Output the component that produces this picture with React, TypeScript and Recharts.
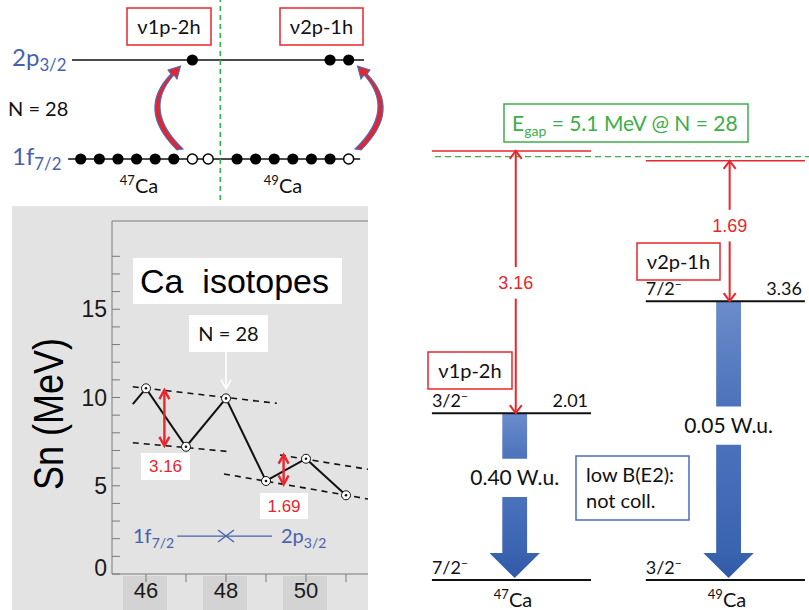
import React from "react";
import {
  ComposedChart,
  ScatterChart,
  Scatter,
  Line,
  XAxis,
  YAxis,
  ReferenceLine,
  ReferenceArea,
} from "recharts";

const SANS = "'Liberation Sans', Arial, sans-serif";
const CAL = "Lato, 'Open Sans', sans-serif";
const RED = "#e8262d";
const BLUE_TXT = "#4662ad";
const GREEN = "#3cae4a";
const AXIS = "#7a7a7a";

// shell-model occupation, slot index along each orbital line
const f72Filled = [0, 1, 2, 3, 4, 5, 8.4, 9.4, 10.4, 11.4, 12.4, 13.4];
const f72Holes = [6, 6.85, 14.4];
const p32Filled = [6, 13.4, 14.4];

// one-neutron separation energies of Ca isotopes (MeV)
const massNumbers = [45.67, 46, 47, 48, 49, 50, 51];
const snValues = [9.63, 10.52, 7.21, 9.95, 5.27, 6.53, 4.46];
const xTicks = [46, 47, 48, 49, 50, 51];
const yTicks = [0, 1, 2, 3, 4, 5, 6, 7, 8, 9, 10, 11, 12, 13, 14, 15, 16, 17, 18];

// dashed systematics [A, Sn]
const upperTrendA = [[45.67, 10.61], [49.27, 9.67]];
const lowerTrendA = [[45.67, 7.44], [48.1, 6.93]];
const upperTrendB = [[49.35, 6.74], [51.55, 5.93]];
const lowerTrendB = [[47.95, 5.67], [51.55, 4.25]];

// gap arrows: A, upper Sn, lower Sn
const gapArrowA = [46.46, 49.44];
const gapArrowHi = [10.42, 6.76];
const gapArrowLo = [7.26, 5.07];

// level scheme (MeV)
const nuclei = ["47", "49"];
const groundSpins = ["7/2", "3/2"];
const excitedSpins = ["3/2", "7/2"];
const excitedEnergies = [2.01, 3.36];
const gapToShell = [3.16, 1.69];
const shellGap = 5.1;
const bE2Labels = ["0.40 W.u.", "0.05 W.u."];
const bE2LabelEnergy = [1.23, 1.86];
const redLabelEnergy = [3.58, 4.27];

const toPoints = (pts: number[][]) => pts.map(([n, sn]) => ({ n, sn }));
const snPoints = massNumbers.map((n, i) => ({ n, sn: snValues[i] }));

const arrowLine =
  (color: string, width: number, headStart: boolean, headEnd: boolean, size = 8, spread = 5) =>
  (p: any) => {
    const { x1, y1, x2, y2 } = p;
    const head = (tx: number, ty: number, fx: number, fy: number) => {
      const dx = tx - fx;
      const dy = ty - fy;
      const len = Math.hypot(dx, dy) || 1;
      const ux = dx / len;
      const uy = dy / len;
      const bx = tx - ux * size;
      const by = ty - uy * size;
      return `M${bx - uy * spread},${by + ux * spread} L${tx},${ty} L${bx + uy * spread},${by - ux * spread}`;
    };
    return (
      <g>
        <line x1={x1} y1={y1} x2={x2} y2={y2} stroke={color} strokeWidth={width} />
        {headStart && <path d={head(x1, y1, x2, y2)} fill="none" stroke={color} strokeWidth={width} />}
        {headEnd && <path d={head(x2, y2, x1, y1)} fill="none" stroke={color} strokeWidth={width} />}
      </g>
    );
  };

const SnXTick = (props: any) => {
  const { x, y, payload } = props;
  const v = payload.value;
  const labelled = v % 2 === 0;
  return (
    <g>
      {labelled && <rect x={x - 23} y={y - 6} width={44} height={36} fill="#d3d3d3" />}
      <line x1={x} y1={y - 8} x2={x} y2={y} stroke={AXIS} />
      {labelled && (
        <text x={x} y={y + 16} textAnchor="middle" fontSize={22} fontFamily={SANS} fill="#1a1a1a">
          {v}
        </text>
      )}
    </g>
  );
};

const SnYTick = (props: any) => {
  const { x, y, payload } = props;
  const v = payload.value;
  return (
    <g>
      <line x1={x} y1={y} x2={x + 8} y2={y} stroke={AXIS} />
      {v % 5 === 0 && (
        <text x={x - 5} y={v === 0 ? y + 2 : y + 8} textAnchor="end" fontSize={23} fontFamily={SANS} fill="#1a1a1a">
          {v}
        </text>
      )}
    </g>
  );
};

const SnDot = (props: any) => {
  const { cx, cy, index } = props;
  if (index === 0) return <g key="lead" />;
  return (
    <g key={index}>
      <circle cx={cx} cy={cy} r={4.5} fill="#fff" stroke="#111" strokeWidth={1} />
      <circle cx={cx} cy={cy} r={1.3} fill="#111" />
    </g>
  );
};

function ShellDiagram() {
  const filled = [
    ...f72Filled.map((s) => ({ s, lvl: 0 })),
    ...p32Filled.map((s) => ({ s, lvl: 1 })),
  ];
  const holes = f72Holes.map((s) => ({ s, lvl: 0 }));
  return (
    <ScatterChart width={400} height={200} margin={{ top: 0, right: 0, bottom: 0, left: 0 }}>
      <XAxis type="number" dataKey="s" domain={[-4.34, 17.16]} hide allowDataOverflow />
      <YAxis type="number" dataKey="lvl" domain={[-0.414, 1.606]} hide allowDataOverflow />
      <ReferenceLine segment={[{ x: -0.47, y: 1 }, { x: 15.23, y: 1 }]} stroke="#111" strokeWidth={1.5} />
      <ReferenceLine segment={[{ x: -0.68, y: 0 }, { x: 15.02, y: 0 }]} stroke="#111" strokeWidth={1.5} />
      <ReferenceLine x={7.5} stroke="#2bb04a" strokeWidth={1.5} strokeDasharray="5 4" />
      <Scatter
        data={filled}
        isAnimationActive={false}
        shape={(p: any) => <circle cx={p.cx} cy={p.cy} r={5.6} fill="#000" />}
      />
      <Scatter
        data={holes}
        isAnimationActive={false}
        shape={(p: any) => <circle cx={p.cx} cy={p.cy} r={5} fill="#fff" stroke="#000" strokeWidth={1.5} />}
      />
    </ScatterChart>
  );
}

function SnChart() {
  return (
    <ComposedChart width={368} height={410} margin={{ top: 21, right: 0, bottom: 0, left: 0 }}>
      <XAxis
        type="number"
        dataKey="n"
        domain={[45.15, 51.55]}
        allowDataOverflow
        ticks={xTicks}
        interval={0}
        tickSize={8}
        tickMargin={0}
        tickLine={false}
        height={36}
        stroke={AXIS}
        tick={<SnXTick />}
      />
      <YAxis
        type="number"
        domain={[0, 20]}
        allowDataOverflow
        ticks={yTicks}
        interval={0}
        width={112}
        tickSize={0}
        tickMargin={0}
        tickLine={false}
        stroke={AXIS}
        tick={<SnYTick />}
      />
      <ReferenceLine y={20} stroke={AXIS} />
      {[upperTrendA, lowerTrendA, upperTrendB, lowerTrendB].map((t, i) => (
        <Line
          key={i}
          data={toPoints(t)}
          dataKey="sn"
          stroke="#111"
          strokeWidth={1.6}
          strokeDasharray="6 5"
          dot={false}
          isAnimationActive={false}
        />
      ))}
      <Line data={snPoints} dataKey="sn" stroke="#111" strokeWidth={2} dot={<SnDot />} isAnimationActive={false} />
      {gapArrowA.map((a, i) => (
        <ReferenceLine
          key={i}
          segment={[{ x: a, y: gapArrowHi[i] }, { x: a, y: gapArrowLo[i] }]}
          shape={arrowLine(RED, 2.4, true, true, 9, 5)}
        />
      ))}
      <ReferenceLine segment={[{ x: 48, y: 12.6 }, { x: 48, y: 10.5 }]} shape={arrowLine("#fff", 1.6, false, true, 9, 5)} />
      <ReferenceLine segment={[{ x: 46.78, y: 2.15 }, { x: 48, y: 2.15 }]} shape={arrowLine(BLUE_TXT, 1.3, false, true, 8, 6)} />
      <ReferenceLine segment={[{ x: 49.15, y: 2.15 }, { x: 48, y: 2.15 }]} shape={arrowLine(BLUE_TXT, 1.3, false, true, 8, 6)} />
    </ComposedChart>
  );
}

const SpinText = ({ x, y, spin, anchor }: any) => (
  <text x={x} y={y} textAnchor={anchor} fontSize={18} fontFamily={CAL} fill="#111">
    {spin}
    <tspan fontSize={12} dy={-7}>
      −
    </tspan>
  </text>
);

function LevelScheme() {
  const cols = [0, 1];
  const half = 0.372;
  const spinPts = cols.flatMap((c) => [
    { x: c - half, y: 0, t: groundSpins[c] },
    { x: c - half, y: excitedEnergies[c], t: excitedSpins[c] },
  ]);
  const energyPts = cols.map((c) => ({ x: c + half, y: excitedEnergies[c], t: excitedEnergies[c].toFixed(2) }));
  const redPts = cols.map((c) => ({ x: c + 0.02, y: redLabelEnergy[c], t: gapToShell[c].toFixed(2) }));
  const wuPts = cols.map((c) => ({ x: c + 0.015, y: bE2LabelEnergy[c], t: bE2Labels[c] }));
  return (
    <ComposedChart width={399} height={610} margin={{ top: 0, right: 0, bottom: 0, left: 0 }}>
      <defs>
        <linearGradient id="barGrad" x1="0" y1="0" x2="0" y2="1">
          <stop offset="0%" stopColor="#6a8ccb" />
          <stop offset="100%" stopColor="#4c72bb" />
        </linearGradient>
        <linearGradient id="shaftGrad" x1="0" y1="0" x2="0" y2="1">
          <stop offset="0%" stopColor="#4a71bc" />
          <stop offset="100%" stopColor="#3a63b0" />
        </linearGradient>
        <linearGradient id="headGrad" x1="0" y1="0" x2="0" y2="1">
          <stop offset="0%" stopColor="#3a63b0" />
          <stop offset="100%" stopColor="#2f58a6" />
        </linearGradient>
      </defs>
      <XAxis type="number" dataKey="x" domain={[-0.4745, 1.391]} hide allowDataOverflow />
      <YAxis type="number" dataKey="y" domain={[-0.361, 6.988]} hide allowDataOverflow />
      <ReferenceLine
        segment={[{ x: -0.3577, y: shellGap }, { x: 1.391, y: shellGap }]}
        stroke={GREEN}
        strokeWidth={1.3}
        strokeDasharray="6 4"
      />
      {cols.map((c) => {
        const e = excitedEnergies[c];
        const top = e + gapToShell[c];
        const bx = c + 0.015;
        const ax = c + 0.02;
        return (
          <React.Fragment key={c}>
            <ReferenceLine segment={[{ x: c - half, y: 0 }, { x: c + half, y: 0 }]} stroke="#111" strokeWidth={2} />
            <ReferenceLine segment={[{ x: c - half, y: e }, { x: c + half, y: e }]} stroke="#111" strokeWidth={2} />
            <ReferenceLine segment={[{ x: c - half, y: top }, { x: c + half, y: top }]} stroke={RED} strokeWidth={1.5} />
            <ReferenceArea x1={bx - 0.058} x2={bx + 0.058} y1={bE2LabelEnergy[c] + 0.23} y2={e - 0.01} fill="url(#barGrad)" fillOpacity={1} />
            <ReferenceArea x1={bx - 0.058} x2={bx + 0.058} y1={0.32} y2={bE2LabelEnergy[c] - 0.23} fill="url(#shaftGrad)" fillOpacity={1} />
            <ReferenceArea
              x1={bx - 0.118}
              x2={bx + 0.118}
              y1={0.024}
              y2={0.325}
              shape={(p: any) => (
                <polygon
                  points={`${p.x},${p.y} ${p.x + p.width},${p.y} ${p.x + p.width / 2},${p.y + p.height}`}
                  fill="url(#headGrad)"
                />
              )}
            />
            <ReferenceLine
              segment={[{ x: ax, y: top }, { x: ax, y: redLabelEnergy[c] + 0.19 }]}
              shape={arrowLine(RED, 2, true, false, 8, 6)}
            />
            <ReferenceLine
              segment={[{ x: ax, y: redLabelEnergy[c] - 0.19 }, { x: ax, y: e }]}
              shape={arrowLine(RED, 2, false, true, 8, 6)}
            />
          </React.Fragment>
        );
      })}
      <Scatter
        data={spinPts}
        isAnimationActive={false}
        shape={(p: any) => <SpinText x={p.cx} y={p.cy - 6} spin={p.payload.t} anchor="start" />}
      />
      <Scatter
        data={energyPts}
        isAnimationActive={false}
        shape={(p: any) => (
          <text x={p.cx - 3} y={p.cy - 6} textAnchor="end" fontSize={18} fontFamily={CAL} fill="#111">
            {p.payload.t}
          </text>
        )}
      />
      <Scatter
        data={redPts}
        isAnimationActive={false}
        shape={(p: any) => (
          <text x={p.cx} y={p.cy + 6} textAnchor="middle" fontSize={18} fontFamily={SANS} fill={RED}>
            {p.payload.t}
          </text>
        )}
      />
      <Scatter
        data={wuPts}
        isAnimationActive={false}
        shape={(p: any) => (
          <text x={p.cx} y={p.cy + 7} textAnchor="middle" fontSize={21} fontFamily={CAL} fill="#111">
            {p.payload.t}
          </text>
        )}
      />
    </ComposedChart>
  );
}

const BoxLabel = ({ x, y, w, h, stroke, text, size = 20, color = "#111" }: any) => (
  <g>
    <rect x={x} y={y} width={w} height={h} fill="#fff" stroke={stroke} strokeWidth={stroke === "none" ? 0 : 1.5} />
    <text x={x + w / 2} y={y + h / 2 + size * 0.35} textAnchor="middle" fontSize={size} fontFamily={CAL} fill={color}>
      {text}
    </text>
  </g>
);

const Nucleus = ({ x, y, a }: any) => (
  <text x={x} y={y} textAnchor="middle" fontFamily={CAL} fill="#111">
    <tspan fontSize={13} dy={-8}>
      {a}
    </tspan>
    <tspan fontSize={20} dy={8}>
      Ca
    </tspan>
  </text>
);

const Orbital = ({ x, y, main, sub, size = 22 }: any) => (
  <text x={x} y={y} fontFamily={CAL} fill={BLUE_TXT}>
    <tspan fontSize={size}>{main}</tspan>
    <tspan fontSize={size * 0.7} dy={5}>
      {sub}
    </tspan>
  </text>
);

function Overlay() {
  return (
    <svg width={809} height={610} style={{ position: "absolute", left: 0, top: 0, pointerEvents: "none" }}>
      {/* shell diagram */}
      <Orbital x={12} y={66} main="2p" sub="3/2" size={24} />
      <Orbital x={12} y={165} main="1f" sub="7/2" size={24} />
      <text x={8} y={116} fontSize={20} fontFamily={CAL} fill="#111">
        N = 28
      </text>
      <BoxLabel x={127} y={8} w={84} h={37} stroke={RED} text="ν1p-2h" />
      <BoxLabel x={280} y={8} w={83} h={37} stroke={RED} text="ν2p-1h" />
      <Nucleus x={139} y={193} a={nuclei[0]} />
      <Nucleus x={283} y={193} a={nuclei[1]} />
      <path
        d="M177,150 Q136,110 171,74 L168,70 L180.5,66 L177,79 L174,75 Q142,110 183,149 Z"
        fill="#e0262e"
        stroke="#4a6cc0"
        strokeWidth={1.1}
      />
      <path
        d="M361,150 Q402,110 367,74 L370,70 L357.5,66 L361,79 L364,75 Q396,110 355,149 Z"
        fill="#e0262e"
        stroke="#4a6cc0"
        strokeWidth={1.1}
      />

      {/* Sn panel */}
      <rect x={133} y={258} width={209} height={46} fill="#fff" />
      <text x={140} y={293} fontSize={34} fontFamily={SANS} fill="#000" xmlSpace="preserve">
        Ca  isotopes
      </text>
      <BoxLabel x={189} y={315} w={79} h={37} stroke="none" text="N = 28" />
      <rect x={141} y={453} width={49} height={27} fill="#fff" />
      <text x={165.5} y={472} textAnchor="middle" fontSize={17} fontFamily={SANS} fill={RED}>
        3.16
      </text>
      <rect x={260} y={493} width={48} height={26} fill="#fff" />
      <text x={284} y={512} textAnchor="middle" fontSize={17} fontFamily={SANS} fill={RED}>
        1.69
      </text>
      <text
        transform="translate(63,414) rotate(-90)"
        textAnchor="middle"
        fontSize={43}
        fontFamily={SANS}
        fill="#000"
        textLength={152}
        lengthAdjust="spacingAndGlyphs"
      >
        Sn (MeV)
      </text>
      <Orbital x={133} y={543} main="1f" sub="7/2" size={20} />
      <Orbital x={281} y={543} main="2p" sub="3/2" size={20} />

      {/* level scheme */}
      <rect x={504} y={104} width={244} height={38} fill="#fff" stroke={GREEN} strokeWidth={1.5} />
      <text x={512} y={131} fontFamily={CAL} fill={GREEN}>
        <tspan fontSize={21}>E</tspan>
        <tspan fontSize={14} dy={5}>
          gap
        </tspan>
        <tspan fontSize={21} dy={-5}>
          {" "}= {shellGap} MeV @ N = 28
        </tspan>
      </text>
      <BoxLabel x={637} y={243} w={83} h={37} stroke={RED} text="ν2p-1h" />
      <BoxLabel x={428} y={352} w={84} h={37} stroke={RED} text="ν1p-2h" />
      <rect x={576} y={456} width={113} height={64} fill="#fff" stroke="#4a6cc0" strokeWidth={1.5} />
      <text x={586} y={482} fontSize={20} fontFamily={CAL} fill="#111">
        low B(E2):
      </text>
      <text x={586} y={508} fontSize={20} fontFamily={CAL} fill="#111">
        not coll.
      </text>
      <Nucleus x={513} y={607} a={nuclei[0]} />
      <Nucleus x={727} y={607} a={nuclei[1]} />
    </svg>
  );
}

export default function App() {
  return (
    <div style={{ position: "absolute", left: 0, top: 0, width: 809, height: 610, overflow: "hidden", background: "#fff" }}>
      <div style={{ position: "absolute", left: 12, top: 206, width: 356, height: 404, background: "#e3e3e3" }} />
      <div style={{ position: "absolute", left: 0, top: 0 }}>
        <ShellDiagram />
      </div>
      <div style={{ position: "absolute", left: 0, top: 200 }}>
        <SnChart />
      </div>
      <div style={{ position: "absolute", left: 410, top: 0 }}>
        <LevelScheme />
      </div>
      <Overlay />
    </div>
  );
}
